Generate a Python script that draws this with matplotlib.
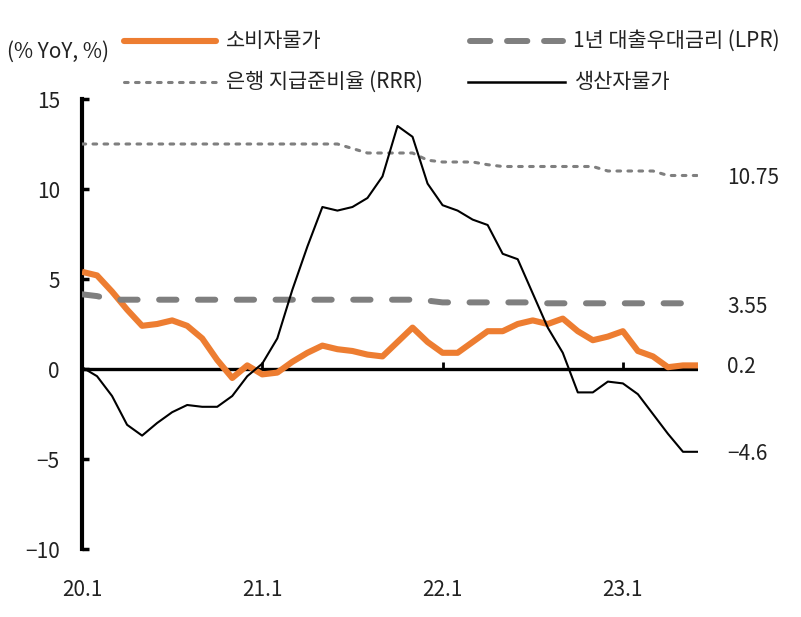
import matplotlib
matplotlib.use("Agg")
import matplotlib.pyplot as plt
from matplotlib.lines import Line2D

plt.rcParams['font.family'] = ['Noto Sans CJK KR', 'DejaVu Sans']
plt.rcParams['font.weight'] = 'light'
plt.rcParams['axes.unicode_minus'] = True

# ---- data (monthly, 20.1 .. 23.6) ----
cpi = [5.4, 5.2, 4.3, 3.3, 2.4, 2.5, 2.7, 2.4, 1.7, 0.5, -0.5, 0.2,
       -0.3, -0.2, 0.4, 0.9, 1.3, 1.1, 1.0, 0.8, 0.7, 1.5, 2.3, 1.5,
       0.9, 0.9, 1.5, 2.1, 2.1, 2.5, 2.7, 2.5, 2.8, 2.1, 1.6, 1.8,
       2.1, 1.0, 0.7, 0.1, 0.2, 0.2]
lpr = [4.15, 4.05, 3.85, 3.85, 3.85, 3.85, 3.85, 3.85, 3.85, 3.85, 3.85, 3.85,
       3.85, 3.85, 3.85, 3.85, 3.85, 3.85, 3.85, 3.85, 3.85, 3.85, 3.85, 3.80,
       3.70, 3.70, 3.70, 3.70, 3.70, 3.70, 3.70, 3.65, 3.65, 3.65, 3.65, 3.65,
       3.65, 3.65, 3.65, 3.65, 3.65, 3.55]
rrr = [12.5, 12.5, 12.5, 12.5, 12.5, 12.5, 12.5, 12.5, 12.5, 12.5, 12.5, 12.5,
       12.5, 12.5, 12.5, 12.5, 12.5, 12.5, 12.25, 12.0, 12.0, 12.0, 12.0, 11.6,
       11.5, 11.5, 11.5, 11.35, 11.25, 11.25, 11.25, 11.25, 11.25, 11.25, 11.25, 11.0,
       11.0, 11.0, 11.0, 10.75, 10.75, 10.75]
ppi = [0.1, -0.4, -1.5, -3.1, -3.7, -3.0, -2.4, -2.0, -2.1, -2.1, -1.5, -0.4,
       0.3, 1.7, 4.4, 6.8, 9.0, 8.8, 9.0, 9.5, 10.7, 13.5, 12.9, 10.3,
       9.1, 8.8, 8.3, 8.0, 6.4, 6.1, 4.2, 2.3, 0.9, -1.3, -1.3, -0.7,
       -0.8, -1.4, -2.5, -3.6, -4.6, -4.6]
x_tick_pos = [0, 12, 24, 36]
x_tick_labels = ['20.1', '21.1', '22.1', '23.1']
y_ticks = [-10, -5, 0, 5, 10, 15]
series_names = ['소비자물가', '1년 대출우대금리 (LPR)', '은행 지급준비율 (RRR)', '생산자물가']
end_labels = ['10.75', '3.55', '0.2', '\u22124.6']

ORANGE = '#ED7D31'
GREY = '#7F7F7F'
TXT = '#222222'
FS = 15

W, H = 801, 617
fig = plt.figure(figsize=(W / 100, H / 100), dpi=100)
ax = fig.add_axes([82 / W, 1 - 549 / H, (698 - 82) / W, (549 - 99) / H])

x = list(range(len(cpi)))

# zero line as x axis
ax.axhline(0, color='black', lw=2.4, zorder=1)

ax.plot(x, cpi, color=ORANGE, lw=4.4, solid_joinstyle='round', solid_capstyle='butt', zorder=3)
ax.plot(x, lpr, color=GREY, lw=4.3, dashes=(2.9, 3.6), dash_capstyle='round', zorder=3)
ax.plot(x, rrr, color=GREY, lw=2.2, dashes=(1.2, 2.4), dash_capstyle='round', zorder=3)
ax.plot(x, ppi, color='black', lw=1.5, solid_joinstyle='round', zorder=4)

ax.set_xlim(0, len(cpi) - 1)
ax.set_ylim(-10, 15)

for s in ['top', 'right']:
    ax.spines[s].set_visible(False)
ax.spines['left'].set_linewidth(3.0)
ax.spines['left'].set_color('black')
ax.spines['bottom'].set_position(('data', 0))
ax.spines['bottom'].set_visible(False)

ax.set_yticks(y_ticks)
ax.set_yticklabels([str(v).replace('-', '\u2212') for v in y_ticks])
ax.tick_params(axis='y', direction='in', length=5, width=2.5, pad=16,
               labelsize=FS, labelcolor=TXT, color='black')

ax.set_xticks(x_tick_pos)
ax.set_xticklabels(x_tick_labels)
ax.xaxis.set_ticks_position('bottom')
ax.tick_params(axis='x', direction='in', length=5, width=2.0, pad=151,
               labelsize=FS, labelcolor=TXT, color='black')

# end-of-line value labels
last = len(cpi) - 1
for val, lab in zip([rrr[last], lpr[last], cpi[last], ppi[last]], end_labels):
    ax.annotate(lab, xy=(last, val), xytext=(21, -1.5), textcoords='offset points',
                ha='left', va='center', fontsize=FS, color=TXT, annotation_clip=False)

# y unit label
fig.text(7 / W, 1 - 52 / H, '(% YoY, %)', ha='left', va='center', fontsize=FS, color=TXT)

# legend (manual)
def leg_item(x0, x1, y, label, **kw):
    fig.add_artist(Line2D([x0 / W, x1 / W], [1 - y / H, 1 - y / H], transform=fig.transFigure, **kw))
    fig.text((x1 + 10) / W, 1 - y / H, label, ha='left', va='center', fontsize=FS, color=TXT)

leg_item(124, 216, 41, series_names[0], color=ORANGE, lw=4.4, solid_capstyle='round')
leg_item(470, 563, 41, series_names[1], color=GREY, lw=4.3, dashes=(3.4, 2.8), dash_capstyle='round')
leg_item(124, 216, 82, series_names[2], color=GREY, lw=2.2, dashes=(1.2, 2.4), dash_capstyle='round')
leg_item(468, 565, 82, series_names[3], color='black', lw=1.8)

fig.savefig('out.png', dpi=100)
